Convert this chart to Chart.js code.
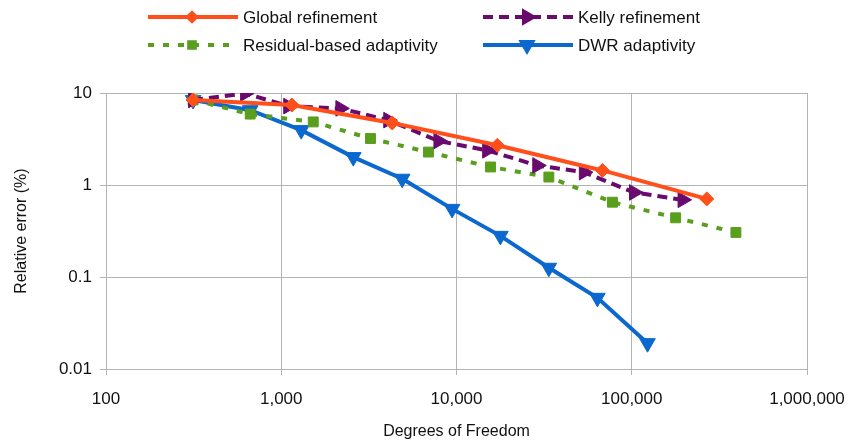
<!DOCTYPE html>
<html>
<head>
<meta charset="utf-8">
<script src="https://cdn.jsdelivr.net/npm/chart.js@4"></script>
<style>
  html, body { margin: 0; padding: 0; background: #fff; }
  #wrap { width: 852px; height: 444px; }
</style>
</head>
<body>
<div id="wrap"><canvas id="errChart" width="852" height="444"></canvas></div>
<script>
// values
var seriesNames = ['Global refinement', 'Kelly refinement', 'Residual-based adaptivity', 'DWR adaptivity'];

var globalDof = [314, 1151, 4295, 17100, 68100, 268000];
var globalErr = [8.4, 7.4, 4.73, 2.70, 1.44, 0.706];

var kellyDof = [314, 622, 1096, 2175, 4080, 7890, 14960, 28900, 53300, 103000, 195000];
var kellyErr = [8.4, 9.9, 7.2, 6.8, 5.07, 3.01, 2.38, 1.63, 1.38, 0.83, 0.69];

var residualDof = [314, 665, 1523, 3230, 6920, 15640, 33650, 77600, 178000, 393000];
var residualErr = [8.4, 5.9, 4.85, 3.2, 2.28, 1.57, 1.22, 0.65, 0.44, 0.305];

var dwrDof = [314, 665, 1300, 2577, 4900, 9440, 17800, 33650, 63700, 123000];
var dwrErr = [8.4, 6.5, 3.95, 2.01, 1.17, 0.55, 0.28, 0.126, 0.0594, 0.0191];

var xTickValues = [100, 1000, 10000, 100000, 1000000];
var xTickLabels = ['100', '1,000', '10,000', '100,000', '1,000,000'];
var yTickValues = [0.01, 0.1, 1, 10];
var yTickLabels = ['0.01', '0.1', '1', '10'];

function pts(xs, ys) {
    return xs.map(function (x, i) { return { x: x, y: ys[i] }; });
}

var FONT = 'Liberation Sans, Arial, sans-serif';
var gridCol = '#b3b3b3';

// white background
var bgPlugin = {
    id: 'bg',
    beforeDraw: function (chart) {
        var c = chart.ctx;
        c.save();
        c.fillStyle = '#fff';
        c.fillRect(0, 0, chart.width, chart.height);
        c.restore();
    }
};

// two-row legend at top, line + marker samples
var legendPlugin = {
    id: 'lineLegend',
    afterDraw: function (chart) {
        var c = chart.ctx;
        var spots = [
            { x: 148, y: 17 }, { x: 483, y: 17 },
            { x: 148, y: 45 }, { x: 483, y: 45 }
        ];
        chart.data.datasets.forEach(function (ds, i) {
            var p = spots[i];
            c.save();
            c.strokeStyle = ds.borderColor;
            c.lineWidth = ds.borderWidth;
            c.setLineDash(ds.borderDash || []);
            c.beginPath();
            c.moveTo(p.x, p.y);
            c.lineTo(p.x + 90, p.y);
            c.stroke();
            c.setLineDash([]);
            c.fillStyle = ds.pointBackgroundColor;
            c.strokeStyle = ds.pointBorderColor;
            Chart.helpers.drawPoint(c, {
                pointStyle: ds.pointStyle,
                rotation: ds.pointRotation || 0,
                radius: ds.pointRadius - 3,
                borderWidth: 1
            }, p.x + 44, p.y);
            c.fillStyle = '#111';
            c.font = '17px ' + FONT;
            c.textBaseline = 'middle';
            c.textAlign = 'left';
            c.fillText(ds.label, p.x + 95, p.y + 1);
            c.restore();
        });
    }
};

var ctx = document.getElementById('errChart').getContext('2d');

var chart = new Chart(ctx, {
    type: 'scatter',
    data: {
        datasets: [
            {
                label: seriesNames[0],
                data: pts(globalDof, globalErr),
                showLine: true,
                borderColor: '#ff4f1a',
                backgroundColor: '#ff4f1a',
                borderWidth: 4,
                pointStyle: 'rectRot',
                pointRadius: 7,
                pointBackgroundColor: '#ff4f1a',
                pointBorderColor: '#ff4f1a',
                pointBorderWidth: 1
            },
            {
                label: seriesNames[1],
                data: pts(kellyDof, kellyErr),
                showLine: true,
                borderColor: '#690a6e',
                backgroundColor: '#690a6e',
                borderWidth: 4,
                borderDash: [10, 6],
                pointStyle: 'triangle',
                pointRotation: 90,
                pointRadius: 9,
                pointBackgroundColor: '#690a6e',
                pointBorderColor: '#690a6e',
                pointBorderWidth: 1
            },
            {
                label: seriesNames[2],
                data: pts(residualDof, residualErr),
                showLine: true,
                borderColor: '#5a9e1e',
                backgroundColor: '#5a9e1e',
                borderWidth: 4,
                borderDash: [6, 9],
                pointStyle: 'rect',
                pointRadius: 7,
                pointBackgroundColor: '#5a9e1e',
                pointBorderColor: '#5a9e1e',
                pointBorderWidth: 1
            },
            {
                label: seriesNames[3],
                data: pts(dwrDof, dwrErr),
                showLine: true,
                borderColor: '#0a68cf',
                backgroundColor: '#0a68cf',
                borderWidth: 4,
                pointStyle: 'triangle',
                pointRotation: 180,
                pointRadius: 9,
                pointBackgroundColor: '#0a68cf',
                pointBorderColor: '#0a68cf',
                pointBorderWidth: 1
            }
        ]
    },
    options: {
        responsive: false,
        animation: false,
        layout: { padding: { left: 0, right: 45, top: 93, bottom: 0 } },
        plugins: {
            legend: { display: false },
            tooltip: { enabled: false }
        },
        scales: {
            x: {
                type: 'logarithmic',
                min: 100,
                max: 1000000,
                afterBuildTicks: function (scale) {
                    scale.ticks = xTickValues.map(function (v) { return { value: v }; });
                },
                afterFit: function (scale) {
                    scale.height = 75;
                    scale.paddingLeft = 0;
                    scale.paddingRight = 0;
                },
                grid: { color: gridCol, tickLength: 6, lineWidth: 1 },
                border: { color: gridCol },
                ticks: {
                    autoSkip: false,
                    maxRotation: 0,
                    padding: 14,
                    color: '#111',
                    font: { family: FONT, size: 17 },
                    callback: function (v, i) { return xTickLabels[i]; }
                },
                title: {
                    display: true,
                    text: 'Degrees of Freedom',
                    color: '#111',
                    font: { family: FONT, size: 16 },
                    padding: { top: 0, bottom: 3 }
                }
            },
            y: {
                type: 'logarithmic',
                min: 0.01,
                max: 10,
                afterBuildTicks: function (scale) {
                    scale.ticks = yTickValues.map(function (v) { return { value: v }; });
                },
                afterFit: function (scale) {
                    scale.width = 106;
                    scale.paddingTop = 0;
                    scale.paddingBottom = 0;
                },
                grid: { color: gridCol, tickLength: 6, lineWidth: 1 },
                border: { color: gridCol },
                ticks: {
                    autoSkip: false,
                    padding: 8,
                    color: '#111',
                    font: { family: FONT, size: 17 },
                    callback: function (v, i) { return yTickLabels[i]; }
                },
                title: {
                    display: true,
                    text: 'Relative error (%)',
                    color: '#111',
                    font: { family: FONT, size: 16 },
                    padding: { top: 12, bottom: 0 }
                }
            }
        }
    },
    plugins: [bgPlugin, legendPlugin]
});
</script>
</body>
</html>
